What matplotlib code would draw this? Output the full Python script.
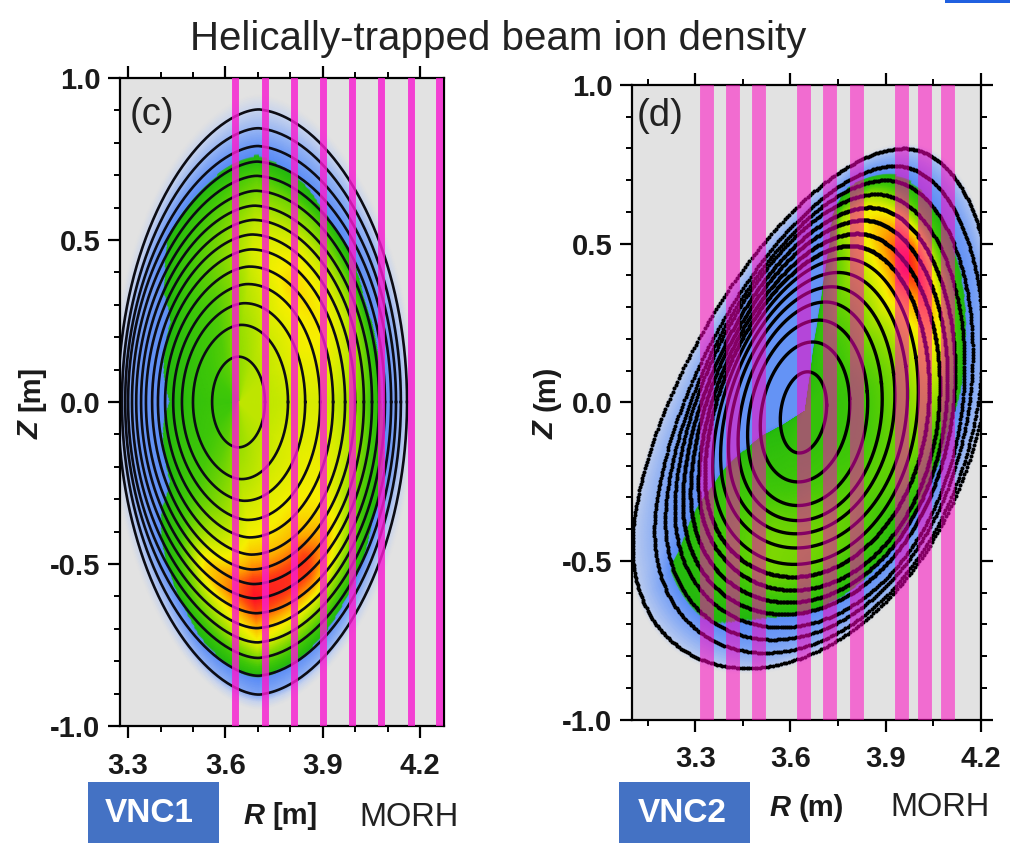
import numpy as np
import matplotlib
matplotlib.use("Agg")
import matplotlib.pyplot as plt
from matplotlib.colors import LinearSegmentedColormap, Normalize
from matplotlib.patches import Rectangle
from matplotlib.ticker import MultipleLocator, FixedLocator

plt.rcParams['font.family'] = ['Liberation Sans', 'DejaVu Sans']
plt.rcParams['axes.unicode_minus'] = False

W, H = 1010, 855

# (c) flux surfaces, inner to outer
c_r_in = [3.559, 3.50, 3.466, 3.439, 3.414, 3.392, 3.374, 3.355, 3.34, 3.325, 3.312, 3.30, 3.291, 3.281, 3.269]
c_r_out = [3.722, 3.793, 3.846, 3.892, 3.932, 3.969, 4.00, 4.027, 4.052, 4.074, 4.092, 4.111, 4.126, 4.141, 4.16]
c_r_top = [3.64, 3.65, 3.66, 3.67, 3.675, 3.68, 3.68, 3.685, 3.685, 3.69, 3.69, 3.69, 3.69, 3.69, 3.69]
c_z_top = [0.14, 0.238, 0.305, 0.364, 0.418, 0.471, 0.517, 0.562, 0.606, 0.652, 0.698, 0.742, 0.79, 0.845, 0.903]
c_chords = [3.63, 3.722, 3.812, 3.90, 3.99, 4.08, 4.172, 4.259]

# (c) density on the surfaces, one list per poloidal angle
c_angles = [0, 30, 60, 90, 120, 135, 150, 180, 210, 225, 240, 270, 300, 330]
c_dens = [
    [.62, .64, .66, .66, .64, .60, .55, .48, .40, .34, .30, .28, .24, .2, .12],
    [.62, .66, .70, .72, .72, .70, .66, .60, .50, .33, .30, .28, .24, .2, .12],
    [.60, .64, .68, .72, .76, .74, .70, .64, .56, .48, .33, .30, .26, .2, .12],
    [.55, .57, .60, .62, .64, .66, .64, .62, .58, .52, .46, .34, .29, .2, .12],
    [.46, .44, .44, .45, .47, .48, .48, .47, .44, .42, .38, .33, .28, .2, .12],
    [.44, .42, .41, .41, .41, .41, .40, .39, .38, .36, .35, .33, .28, .2, .12],
    [.42, .40, .38, .37, .36, .33, .31, .30, .30, .28, .27, .26, .24, .18, .10],
    [.40, .38, .35, .33, .31, .30, .30, .30, .30, .28, .26, .24, .22, .18, .10],
    [.42, .40, .40, .40, .37, .33, .31, .30, .30, .29, .28, .26, .24, .20, .12],
    [.44, .43, .43, .43, .44, .44, .44, .42, .40, .38, .36, .33, .29, .22, .14],
    [.46, .48, .50, .52, .56, .60, .66, .74, .74, .64, .55, .46, .36, .30, .20],
    [.56, .60, .64, .68, .72, .78, .86, .97, 1.0, .92, .80, .70, .52, .33, .25],
    [.60, .64, .68, .71, .75, .80, .88, .95, .93, .82, .68, .55, .42, .30, .20],
    [.62, .66, .68, .70, .70, .68, .64, .58, .50, .44, .38, .33, .28, .2, .12],
]

# (d) flux surfaces, inner to outer
d_r_in = [3.568, 3.505, 3.465, 3.435, 3.405, 3.38, 3.355, 3.33, 3.31, 3.285, 3.26, 3.235, 3.205, 3.17, 3.10]
d_r_out = [3.714, 3.775, 3.82, 3.855, 3.885, 3.915, 3.94, 3.965, 3.99, 4.01, 4.03, 4.055, 4.08, 4.11, 4.14]
d_r_top = [3.654, 3.67, 3.69, 3.71, 3.73, 3.75, 3.77, 3.79, 3.81, 3.83, 3.85, 3.87, 3.90, 3.93, 3.957]
d_z_top = [0.096, 0.19, 0.259, 0.316, 0.364, 0.409, 0.453, 0.493, 0.532, 0.574, 0.614, 0.656, 0.70, 0.745, 0.80]
d_z_bot = [-0.16, -0.251, -0.325, -0.372, -0.413, -0.457, -0.508, -0.546, -0.587, -0.625, -0.662, -0.703, -0.741, -0.782, -0.83]
d_bulge = [0, .02, .04, .06, .08, .10, .12, .14, .16, .175, .19, .205, .22, .235, .25]
d_chords = [3.338, 3.42, 3.502, 3.644, 3.726, 3.808, 3.95, 4.023, 4.096]

# (d) density on the surfaces, one list per poloidal angle
d_angles = [0, 30, 60, 72, 78, 110, 150, 186, 194, 215, 240, 270, 300, 330]
d_dens = [
    [.38, .40, .43, .47, .52, .58, .64, .70, .72, .66, .50, .36, .30, .26, .16],
    [.38, .42, .47, .53, .60, .68, .78, .90, 1.0, .92, .72, .46, .32, .27, .17],
    [.36, .40, .44, .48, .52, .56, .60, .64, .68, .72, .70, .58, .36, .28, .16],
    [.34, .36, .38, .40, .42, .44, .46, .50, .56, .60, .56, .40, .34, .28, .16],
    [.30, .30, .30, .30, .30, .30, .30, .30, .30, .30, .29, .28, .26, .24, .14],
    [.30, .30, .30, .30, .30, .30, .30, .30, .30, .30, .29, .28, .26, .22, .14],
    [.30, .30, .30, .30, .30, .30, .30, .30, .30, .30, .29, .28, .26, .22, .14],
    [.30, .30, .30, .30, .30, .30, .30, .30, .30, .30, .29, .28, .26, .22, .14],
    [.34, .35, .36, .37, .38, .38, .38, .38, .37, .36, .34, .33, .33, .26, .14],
    [.36, .38, .40, .42, .43, .44, .44, .44, .42, .40, .38, .35, .33, .26, .14],
    [.38, .40, .44, .48, .50, .52, .52, .50, .46, .40, .33, .30, .28, .24, .16],
    [.38, .42, .46, .48, .50, .50, .48, .44, .40, .35, .31, .28, .24, .20, .12],
    [.38, .42, .44, .46, .46, .44, .42, .38, .34, .31, .28, .24, .20, .16, .10],
    [.38, .40, .42, .45, .48, .50, .52, .50, .44, .36, .31, .28, .24, .20, .14],
]

dens_cmap = LinearSegmentedColormap.from_list('dens', [
    (0.0, '#e2e2e2'), (0.12, '#c8d4ee'), (0.22, '#8fb0f4'), (0.319, '#5a8cf6'),
    (0.32, '#22b80e'), (0.42, '#40c808'), (0.55, '#8fdc00'), (0.66, '#d8ec00'),
    (0.72, '#f8f000'), (0.82, '#ffa800'), (0.92, '#ff4810'), (1.0, '#ff1028'),
], N=512)
dens_norm = Normalize(0, 1)


def make_axes(left, top, right, bottom):
    ax = fig.add_axes([left / W, 1 - bottom / H, (right - left) / W, (bottom - top) / H])
    ax.set_facecolor('#e2e2e2')
    ax.set_ylim(-1, 1)
    for s in ax.spines.values():
        s.set_linewidth(1.6)
    ax.yaxis.set_major_locator(MultipleLocator(0.5))
    ax.yaxis.set_minor_locator(MultipleLocator(0.1))
    ax.set_xticks([3.3, 3.6, 3.9, 4.2])
    ax.tick_params(which='major', length=8.6, width=1.6, labelsize=21, top=True)
    ax.tick_params(axis='x', which='major', pad=10)
    ax.tick_params(axis='y', which='major', pad=5.5)
    ax.tick_params(which='minor', length=4.3, width=1.4, top=True)
    for lab in ax.get_xticklabels() + ax.get_yticklabels():
        lab.set_fontweight('bold')
        lab.set_color('#1a1a1a')
    return ax


def surface_xy(t, rc, a, zc, b, shape, ax, bulge=0):
    if ax is ax_c:
        # up-down symmetric, shape moves the top towards the inboard side;
        # the outer surfaces get more pointed on the inboard side
        c = np.cos(t + shape * np.sin(t))
        p = np.where(c < 0, 1 + 0.6 * a, 1 + 0.15 * a)
        return rc + a * np.sign(c) * np.abs(c) ** p, zc + b * np.sin(t)
    # tilted surfaces, shape is the tilt; the lower right flank swells out
    tip = np.pi / 2 - shape
    u = np.mod(tip - t, 2 * np.pi)
    f = np.where(u < np.radians(240), np.sin(u * 180 / 240) ** 2, 0) * bulge
    return rc + a * np.cos(t) + 0.8 * f, zc + b * np.sin(t + shape) - 0.6 * f


def draw_field(ax, r_mid, half_r, z_mid, half_z, shape, bulge, angles, dens, fade):
    # mesh follows the surfaces, with the axis and a faded outer ring added
    rows = len(r_mid) + 2
    idx = np.arange(rows)
    r_mid = np.r_[r_mid[0], r_mid, r_mid[-1]]
    z_mid = np.r_[z_mid[0], z_mid, z_mid[-1]]
    half_r = np.r_[0, half_r, half_r[-1] * fade]
    half_z = np.r_[0, half_z, half_z[-1] * fade]
    shape = np.r_[shape[0], shape, shape[-1]]
    bulge = np.r_[0, bulge, bulge[-1] * fade]
    table = np.array(dens)
    table = np.hstack([table[:, :1], table, np.zeros((table.shape[0], 1))])

    th = np.radians(np.linspace(0, 360, 721))
    s = np.linspace(0, rows - 1, 8 * (rows - 1) + 1)
    by_angle = np.array([np.interp(np.degrees(th), angles, table[:, i], period=360) for i in idx]).T
    V = np.array([np.interp(s, idx, col) for col in by_angle])

    tt, ss = np.meshgrid(th, s, indexing='ij')
    R, Z = surface_xy(tt, np.interp(ss, idx, r_mid), np.interp(ss, idx, half_r),
                      np.interp(ss, idx, z_mid), np.interp(ss, idx, half_z),
                      np.interp(ss, idx, shape), ax, np.interp(ss, idx, bulge))
    ax.pcolormesh(R, Z, V, shading='gouraud', cmap=dens_cmap, norm=dens_norm, zorder=1)


fig = plt.figure(figsize=(W / 100, H / 100), dpi=100, facecolor='white')
ax_c = make_axes(120, 78, 444, 726)
ax_d = make_axes(632, 85, 981, 719.5)

ax_c.set_xlim(3.275, 4.274)
ax_c.xaxis.set_minor_locator(MultipleLocator(0.1))
ax_d.set_xlim(3.101, 4.2)
ax_d.xaxis.set_minor_locator(FixedLocator([3.15, 3.45, 3.75, 4.05]))
ax_d.tick_params(which='both', right=True)

# panel (c)
c_rc = (np.array(c_r_in) + np.array(c_r_out)) / 2
c_a = (np.array(c_r_out) - np.array(c_r_in)) / 2
c_b = np.array(c_z_top)
c_shape = np.arcsin(np.clip((c_rc - np.array(c_r_top)) / c_a, -1, 1))
draw_field(ax_c, c_rc, c_a, np.zeros(15), c_b, c_shape, np.zeros(15), c_angles, c_dens, 1.05)

t = np.linspace(0, 2 * np.pi, 500)
for i in range(15):
    rs, zs = surface_xy(t, c_rc[i], c_a[i], 0, c_b[i], c_shape[i], ax_c)
    ax_c.plot(rs, zs, color='#0c0c14', lw=1.9, zorder=2)
for r in c_chords:
    ax_c.axvline(r, color='#f81cd0', alpha=0.82, lw=5, zorder=3)

# panel (d)
d_rc = (np.array(d_r_in) + np.array(d_r_out)) / 2
d_a = (np.array(d_r_out) - np.array(d_r_in)) / 2
# the swelling already pushes the bottom down
d_zb = np.array(d_z_bot) + 0.3 * np.array(d_bulge)
d_zc = (np.array(d_z_top) + d_zb) / 2
d_b = (np.array(d_z_top) - d_zb) / 2
d_shape = np.arcsin(np.clip((np.array(d_r_top) - d_rc) / d_a, -1, 1))
draw_field(ax_d, d_rc, d_a, d_zc, d_b, d_shape, np.array(d_bulge), d_angles, d_dens, 1.02)

for i in range(15):
    if i < 7:
        t = np.linspace(0, 2 * np.pi, 600)
        rs, zs = surface_xy(t, d_rc[i], d_a[i], d_zc[i], d_b[i], d_shape[i], ax_d, d_bulge[i])
        ax_d.plot(rs, zs, color='black', lw=2.4, zorder=2)
    else:
        # outer surfaces come out as rows of dots along the flanks
        t = np.linspace(0, 2 * np.pi, 600 if i < 11 else 460)
        rs, zs = surface_xy(t, d_rc[i], d_a[i], d_zc[i], d_b[i], d_shape[i], ax_d, d_bulge[i])
        ax_d.plot(rs, zs, ls='none', marker='o', ms=2.9, mew=0, color='black', zorder=2)
for r in d_chords:
    ax_d.axvline(r, color='#ff00c0', alpha=0.52, lw=10, zorder=3)

# text
fig.text(498 / W, 1 - 39 / H, 'Helically-trapped beam ion density', fontsize=29,
         ha='center', va='center', color='#222222')
fig.text(152 / W, 1 - 115 / H, '(c)', fontsize=27.5, ha='center', va='center', color='#222222')
fig.text(660 / W, 1 - 116 / H, '(d)', fontsize=27.5, ha='center', va='center', color='#222222')

fig.text(31 / W, 1 - 430 / H, 'Z', rotation=90, fontsize=21, fontweight='bold', fontstyle='italic',
         ha='center', va='center', color='#1a1a1a')
fig.text(31 / W, 1 - 388 / H, '[m]', rotation=90, fontsize=21, fontweight='bold',
         ha='center', va='center', color='#1a1a1a')
fig.text(546 / W, 1 - 430 / H, 'Z', rotation=90, fontsize=21, fontweight='bold', fontstyle='italic',
         ha='center', va='center', color='#1a1a1a')
fig.text(546 / W, 1 - 388 / H, '(m)', rotation=90, fontsize=21, fontweight='bold',
         ha='center', va='center', color='#1a1a1a')

fig.text(243 / W, 1 - 816 / H, 'R', fontsize=21, fontweight='bold', fontstyle='italic', va='center', color='#1a1a1a')
fig.text(272 / W, 1 - 816 / H, '[m]', fontsize=21, fontweight='bold', va='center', color='#1a1a1a')
fig.text(769 / W, 1 - 808 / H, 'R', fontsize=21, fontweight='bold', fontstyle='italic', va='center', color='#1a1a1a')
fig.text(799 / W, 1 - 808 / H, '(m)', fontsize=21, fontweight='bold', va='center', color='#1a1a1a')
fig.text(409 / W, 1 - 817 / H, 'MORH', fontsize=23.5, ha='center', va='center', color='#222222')
fig.text(940 / W, 1 - 807 / H, 'MORH', fontsize=23.5, ha='center', va='center', color='#222222')

for x0, x1, xt, label in [(88, 219, 149, 'VNC1'), (619, 750, 682, 'VNC2')]:
    fig.add_artist(Rectangle((x0 / W, 1 - 843 / H), (x1 - x0) / W, 61 / H, transform=fig.transFigure,
                             facecolor='#4472c4', edgecolor='none'))
    fig.text(xt / W, 1 - 813 / H, label, fontsize=24, fontweight='bold',
             ha='center', va='center', color='white')

# piece of a box cut off at the top edge
fig.add_artist(Rectangle((945 / W, 1 - 3 / H), 65 / W, 3 / H, transform=fig.transFigure,
                         facecolor='#2060e0', edgecolor='none'))

fig.savefig('out.png', dpi=100)
